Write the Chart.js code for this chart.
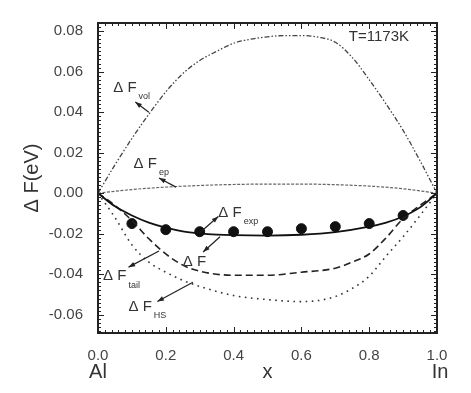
<!DOCTYPE html>
<html><head><meta charset="utf-8">
<script src="https://cdn.jsdelivr.net/npm/chart.js@4.4.1/dist/chart.umd.min.js"></script>
<style>html,body{margin:0;padding:0;background:#fff}#wrap{width:471px;height:393px}</style>
</head><body><div id="wrap"><canvas id="c" width="471" height="393"></canvas></div>
<script>
// composition x (Al -> In)
const xVol = [0,0.05,0.1,0.15,0.2,0.25,0.3,0.35,0.4,0.45,0.5,0.55,0.6,0.65,0.7,0.75,0.8,0.85,0.9,0.95,1.0];
const dFvol = [0,0.014,0.027,0.039,0.050,0.059,0.0655,0.070,0.074,0.076,0.0772,0.0778,0.0778,0.077,0.0745,0.067,0.056,0.044,0.031,0.016,0];
const xEp = [0,0.1,0.2,0.3,0.4,0.5,0.6,0.7,0.8,0.9,1.0];
const dFep = [0,0.0018,0.003,0.0038,0.0043,0.0045,0.0045,0.0042,0.0035,0.0022,0];
const xF = [0,0.05,0.1,0.15,0.2,0.25,0.3,0.35,0.4,0.5,0.6,0.7,0.8,0.85,0.9,0.95,1.0];
const dF = [0,-0.0065,-0.011,-0.0145,-0.017,-0.0188,-0.0198,-0.0204,-0.0207,-0.0209,-0.0205,-0.0192,-0.0165,-0.0145,-0.0115,-0.007,0];
const xTail = [0,0.05,0.1,0.15,0.2,0.25,0.3,0.4,0.5,0.6,0.7,0.75,0.8,0.85,0.9,0.95,1.0];
const dFtail = [0,-0.006,-0.0135,-0.0225,-0.030,-0.0355,-0.0385,-0.0405,-0.0405,-0.039,-0.037,-0.034,-0.030,-0.022,-0.0125,-0.006,0];
const xHS = [0,0.05,0.1,0.15,0.2,0.25,0.3,0.4,0.5,0.6,0.65,0.7,0.75,0.8,0.85,0.9,0.95,1.0];
const dFHS = [0,-0.012,-0.0255,-0.034,-0.039,-0.043,-0.046,-0.0505,-0.0525,-0.0535,-0.053,-0.051,-0.047,-0.041,-0.031,-0.0215,-0.011,0];
const xExp = [0.1,0.2,0.3,0.4,0.5,0.6,0.7,0.8,0.9];
const dFexp = [-0.015,-0.018,-0.019,-0.019,-0.019,-0.0175,-0.0165,-0.015,-0.011];
const xTickLabels = ['0.0','0.2','0.4','0.6','0.8','1.0'];
const yTickLabels = ['-0.06','-0.04','-0.02','0.00','0.02','0.04','0.06','0.08'];

const pts = (xs, ys) => xs.map((x, i) => ({x, y: ys[i]}));
const FONT = '"Liberation Sans", Arial, sans-serif';

// labels: [main text, subscript, x, y (data), arrow from (data) -> to (data)]
const notes = [
  {t:'\u0394 F', s:'vol', x:0.045, y:0.052, a:[0.15,0.040,0.11,0.045]},
  {t:'\u0394 F', s:'ep',  x:0.105, y:0.0145, a:[0.23,0.0030,0.18,0.0075]},
  {t:'\u0394 F', s:'exp', x:0.355, y:-0.0095, a:[0.30,-0.0195,0.355,-0.0115]},
  {t:'\u0394 F', s:'',    x:0.25,  y:-0.034, a:[0.36,-0.0215,0.31,-0.029]},
  {t:'\u0394 F', s:'tail',x:0.015, y:-0.041, a:[0.18,-0.0285,0.09,-0.0365]},
  {t:'\u0394 F', s:'HS',  x:0.09,  y:-0.056, a:[0.28,-0.044,0.175,-0.0535]}
];

const frame = {
  id:'frame',
  afterDraw(chart){
    const {ctx, chartArea:a, scales:{x, y}} = chart;
    ctx.save();
    ctx.strokeStyle = '#222';
    // ticks
    ctx.lineWidth = 1;
    for (let i = 0; i <= 50; i++) {
      const v = i*0.02, px = Math.round(x.getPixelForValue(v)) + 0.5;
      const L = (i % 10 === 0) ? 6 : 3;
      ctx.beginPath();
      ctx.moveTo(px, a.bottom); ctx.lineTo(px, a.bottom - L);
      ctx.moveTo(px, a.top); ctx.lineTo(px, a.top + L);
      ctx.stroke();
    }
    for (let i = -34; i <= 42; i++) {
      const v = i*0.002, py = Math.round(y.getPixelForValue(v)) + 0.5;
      if (py < a.top || py > a.bottom) continue;
      const L = (i % 10 === 0) ? 6 : 3;
      ctx.beginPath();
      ctx.moveTo(a.left, py); ctx.lineTo(a.left + L, py);
      ctx.moveTo(a.right, py); ctx.lineTo(a.right - L, py);
      ctx.stroke();
    }
    ctx.lineWidth = 2;
    ctx.strokeRect(a.left, a.top, a.right - a.left, a.bottom - a.top);
    // text
    ctx.fillStyle = '#333';
    ctx.font = '20px ' + FONT;
    ctx.textAlign = 'center'; ctx.textBaseline = 'middle';
    ctx.fillText('Al', x.getPixelForValue(0), 372);
    ctx.fillText('In', x.getPixelForValue(1) + 3, 372);
    ctx.font = '15px ' + FONT;
    ctx.textAlign = 'left';
    ctx.fillText('T=1173K', x.getPixelForValue(0.74), y.getPixelForValue(0.0773));
    // annotations
    notes.forEach(n => {
      const px = x.getPixelForValue(n.x), py = y.getPixelForValue(n.y);
      ctx.font = '15px ' + FONT;
      ctx.textAlign = 'left'; ctx.textBaseline = 'middle';
      ctx.fillText(n.t, px, py);
      const w = ctx.measureText(n.t).width;
      if (n.s) { ctx.font = '9px ' + FONT; ctx.fillText(n.s, px + w + 2, py + 9); }
      const x1 = x.getPixelForValue(n.a[0]), y1 = y.getPixelForValue(n.a[1]);
      const x2 = x.getPixelForValue(n.a[2]), y2 = y.getPixelForValue(n.a[3]);
      ctx.strokeStyle = '#222'; ctx.lineWidth = 1.2;
      ctx.beginPath(); ctx.moveTo(x1, y1); ctx.lineTo(x2, y2); ctx.stroke();
      const ang = Math.atan2(y2 - y1, x2 - x1), h = 7;
      ctx.fillStyle = '#222';
      ctx.beginPath();
      ctx.moveTo(x2, y2);
      ctx.lineTo(x2 - h*Math.cos(ang - 0.35), y2 - h*Math.sin(ang - 0.35));
      ctx.lineTo(x2 - h*Math.cos(ang + 0.35), y2 - h*Math.sin(ang + 0.35));
      ctx.closePath(); ctx.fill();
      ctx.fillStyle = '#333';
    });
    ctx.restore();
  }
};

new Chart(document.getElementById('c'), {
  type: 'scatter',
  data: { datasets: [
    {data: pts(xVol, dFvol), showLine:true, borderColor:'#444', borderWidth:1.3, borderDash:[5,2,1.5,2,1.5,2], pointRadius:0, cubicInterpolationMode:'monotone'},
    {data: pts(xEp, dFep), showLine:true, borderColor:'#666', borderWidth:1.2, borderDash:[3,1.5], pointRadius:0, cubicInterpolationMode:'monotone'},
    {data: pts(xF, dF), showLine:true, borderColor:'#111', borderWidth:1.8, pointRadius:0, cubicInterpolationMode:'monotone'},
    {data: pts(xTail, dFtail), showLine:true, borderColor:'#222', borderWidth:1.6, borderDash:[7,4], pointRadius:0, cubicInterpolationMode:'monotone'},
    {data: pts(xHS, dFHS), showLine:true, borderColor:'#333', borderWidth:1.6, borderDash:[1.6,4.5], pointRadius:0, cubicInterpolationMode:'monotone'},
    {data: pts(xExp, dFexp), showLine:false, pointRadius:5, pointBackgroundColor:'#111', pointBorderColor:'#111'}
  ]},
  options: {
    responsive:false, animation:false, events:[],
    layout:{padding:{left:0, top:23, right:34, bottom:0}},
    plugins:{legend:{display:false}, tooltip:{enabled:false}},
    scales:{
      x:{type:'linear', min:0, max:1,
        afterFit(s){ s.height = 60; },
        grid:{display:false}, border:{display:false},
        afterBuildTicks(s){ s.ticks = xTickLabels.map(v => ({value: parseFloat(v)})); },
        ticks:{padding:6, color:'#444', font:{family:FONT, size:15}, maxRotation:0,
          callback:(v, i) => xTickLabels[i]},
        title:{display:true, text:'x', color:'#333', font:{family:FONT, size:20}, padding:{top:0, bottom:9}}
      },
      y:{type:'linear', min:-0.069, max:0.084,
        afterFit(s){ s.width = 98; },
        grid:{display:false}, border:{display:false},
        afterBuildTicks(s){ s.ticks = yTickLabels.map(v => ({value: parseFloat(v)})); },
        ticks:{padding:7, color:'#444', font:{family:FONT, size:15},
          callback:(v, i) => yTickLabels[i]},
        title:{display:true, text:'\u0394 F(eV)', color:'#333', font:{family:FONT, size:20}, padding:{top:20, bottom:0}}
      }
    }
  },
  plugins:[frame]
});
</script></body></html>
